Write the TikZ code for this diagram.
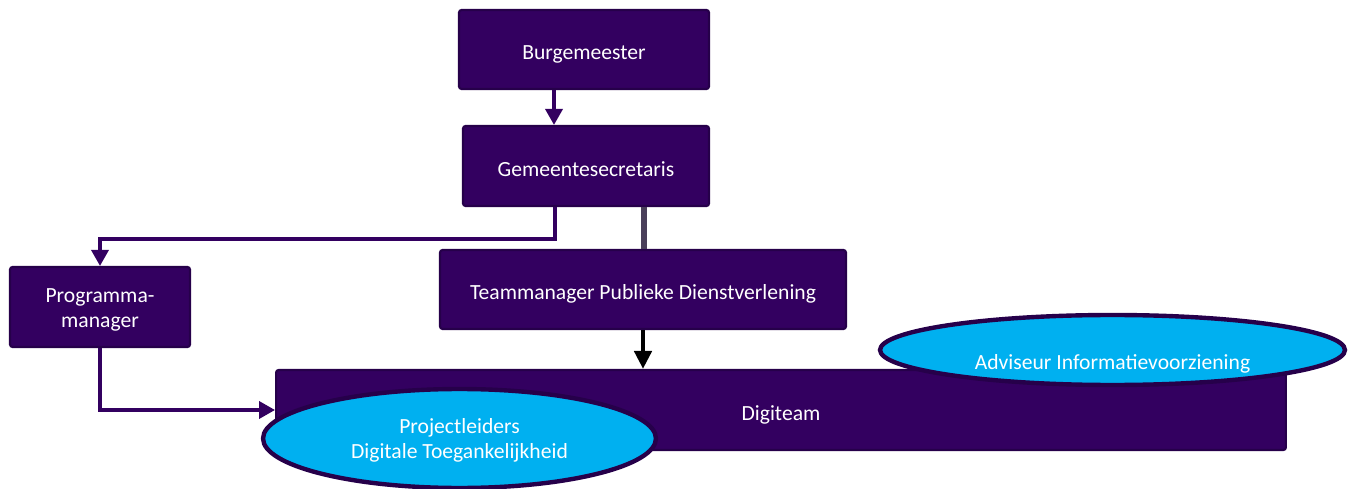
\documentclass[tikz,border=0pt]{standalone}
\usepackage{fontspec}
\setmainfont{Carlito}
\usepackage{tikz}
\usetikzlibrary{arrows.meta,positioning,shapes.geometric}
\definecolor{DeepPurple}{HTML}{330060}
\definecolor{EdgePurple}{HTML}{26004A}
\definecolor{SkyCyan}{HTML}{00B0F0}
\definecolor{ShadeGray}{HTML}{4A3F5A}
\newcommand{\lowlines}[2][1.7pt]{\raisebox{-#1}[\height][\depth]{\begin{tabular}{@{}c@{}}#2\end{tabular}}}

\begin{document}
\begin{tikzpicture}[
    x=0.02cm, y=-0.02cm,
    font=\fontsize{12.3}{14.5}\selectfont,
    rolebox/.style={draw=EdgePurple, line width=1.2pt, rounded corners=0.5mm, fill=DeepPurple, text=white, align=center, inner sep=0pt},
    oneline/.style={text height=11.7pt, text depth=0pt},
    teambubble/.style={ellipse, draw=EdgePurple, line width=2.5pt, fill=SkyCyan, text=white, align=center, inner sep=0pt},
    arr/.style={-{Triangle[length=3.2mm, width=3.4mm]}, line width=2pt, draw=DeepPurple},
    heavy/.style={-{Triangle[length=3.6mm, width=3.4mm]}, line width=2.8pt, draw=black}
]
\useasboundingbox (0,0) rectangle (1352,489);
\node[rolebox, oneline, minimum width=5cm, minimum height=1.58cm] (burg) at (584,49.5) {Burgemeester};
\node[rolebox, oneline, minimum width=4.92cm, minimum height=1.6cm] (secr) at (586,166) {Gemeentesecretaris};
\node[rolebox, minimum width=3.6cm, minimum height=1.6cm] (prog) at (100,307) {\lowlines{Programma-\\manager}};
\node[rolebox, oneline, minimum width=8.12cm, minimum height=1.58cm] (team) at (643,289.5) {Teammanager Publieke Dienstverlening};
\node[rolebox, oneline, minimum width=20.2cm, minimum height=1.6cm] (digi) at (781,410) {Digiteam};
\node[teambubble, minimum width=7.86cm, minimum height=1.98cm] (proj) at (459.5,438.5) {\lowlines[1.5pt]{Projectleiders\\Digitale Toegankelijkheid}};
\node[teambubble, minimum width=9.3cm, minimum height=1.4cm] (advi) at (1112.5,350) {\raisebox{-11pt}[0pt][0pt]{Adviseur Informatievoorziening}};
% lijnen
\draw[arr] ([xshift=-0.6cm]burg.south) -- ([xshift=-0.6cm]burg.south |- secr.north);
\draw[arr] ([xshift=-0.62cm]secr.south) -- ++(0,32) -| (prog.north);
\draw[line width=3pt, draw=ShadeGray] ([xshift=1.16cm]secr.south) -- ([xshift=1.16cm]secr.south |- team.north);
\draw[heavy] (team.south) -- (team.south |- digi.north);
\draw[arr] (prog.south) |- (digi.west);
\end{tikzpicture}
\end{document}
